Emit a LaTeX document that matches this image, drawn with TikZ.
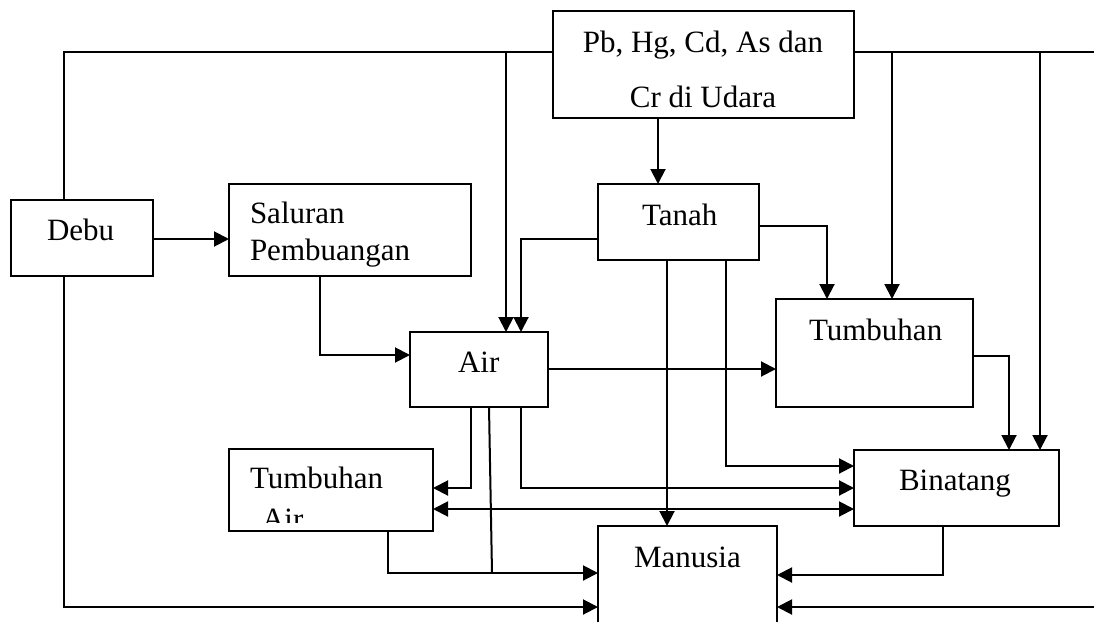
\documentclass[tikz,border=0pt]{standalone}
\usepackage{fontspec}
\setmainfont{Liberation Serif}
\usetikzlibrary{arrows.meta}
\begin{document}
\begin{tikzpicture}[x=1pt,y=-1pt,
  every node/.style={inner sep=0pt,outer sep=0pt},
  box/.style={draw,line width=2pt,anchor=north west,rectangle},
  txt/.style={anchor=base west,font=\fontsize{31}{37}\selectfont},
  ctxt/.style={anchor=base,font=\fontsize{31}{37}\selectfont},
  link/.style={line width=2pt},
  arr/.style={line width=2pt,-{Triangle[length=15pt,width=15pt]}},
  dblarr/.style={line width=2pt,{Triangle[length=15pt,width=15pt]}-{Triangle[length=15pt,width=15pt]}}]
\useasboundingbox (0,0) rectangle (1094,621);
\clip (0,0) rectangle (1094,621);

% boxes
\node[box,minimum width=301pt,minimum height=107pt] (pb) at (553,11) {};
\node[box,minimum width=142pt,minimum height=76pt] (debu) at (11,200) {};
\node[box,minimum width=242pt,minimum height=92pt] (saluran) at (229,184) {};
\node[box,minimum width=161pt,minimum height=76pt] (tanah) at (598,184) {};
\node[box,minimum width=138pt,minimum height=75pt] (air) at (410,332) {};
\node[box,minimum width=197pt,minimum height=108pt] (tumbuhan) at (776,299) {};
\node[box,minimum width=204pt,minimum height=82pt] (tumair) at (229,449) {};
\node[box,minimum width=205pt,minimum height=76pt] (binatang) at (854,450) {};
\node[box,minimum width=179pt,minimum height=120pt] (manusia) at (598,526) {};

% labels
\node[ctxt] (pbA) at (703,52) {Pb, Hg, Cd, As dan};
\node[ctxt] (pbB) at (703,107) {Cr di Udara};
\node[txt] (debuT) at (47,240) {Debu};
\node[txt] (salA) at (250,223) {Saluran};
\node[txt] (salB) at (250,260) {Pembuangan};
\node[txt] (tanahT) at (642,225) {Tanah};
\node[txt] (airT) at (458,372) {Air};
\node[txt] (tumT) at (809,340) {Tumbuhan};
\node[txt] (tumairA) at (250,488) {Tumbuhan};
\begin{scope}
  \clip (240,495) rectangle (320,522);
  \node[txt] (tumairB) at (262,529) {Air};
\end{scope}
\node[txt] (binT) at (899,490) {Binatang};
\node[txt] (manT) at (634,567) {Manusia};

% free ends of the long lines
\coordinate (topL) at (64,52);
\coordinate (topR) at (1094,52);
\coordinate (botL) at (64,607);
\coordinate (botR) at (1094,607);

% air borne metals: left branch
\draw[link] (pb.west |- topL) -- (topL) -- (debu.north -| topL);
\draw[arr] (debu.south -| botL) -- (botL) -- (manusia.west |- botL);
\draw[arr] (506,52) -- (air.north -| 506,0);
% right branch
\draw[link] (pb.east |- topR) -- (topR);
\draw[arr] (892,52) -- (tumbuhan.north -| 892,0);
\draw[arr] (1040,52) -- (binatang.north -| 1040,0);
\draw[arr] (botR) -- (manusia.east |- botR);

% Debu and Saluran
\draw[arr] (debu.east |- 0,239) -- (saluran.west |- 0,239);
\draw[arr] (saluran.south -| 320,0) -- (320,355) -- (air.west |- 0,355);

% Pb box to Tanah
\draw[arr] (pb.south -| 658,0) -- (tanah.north -| 658,0);

% from Tanah
\draw[arr] (tanah.west |- 0,239) -- (521,239) -- (air.north -| 521,0);
\draw[arr] (tanah.east |- 0,226) -- (827,226) -- (tumbuhan.north -| 827,0);
\draw[arr] (tanah.south -| 667,0) -- (manusia.north -| 667,0);
\draw[arr] (tanah.south -| 726,0) -- (726,466) -- (binatang.west |- 0,466);

% from Air
\draw[arr] (air.east |- 0,369) -- (tumbuhan.west |- 0,369);
\draw[arr] (air.south -| 471,0) -- (471,488) -- (tumair.east |- 0,488);
\draw[arr] (air.south -| 521,0) -- (521,488) -- (binatang.west |- 0,488);
\draw[link] (air.south -| 489,0) -- (492,573);

% Tumbuhan Air and Binatang
\draw[dblarr] (tumair.east |- 0,509) -- (binatang.west |- 0,509);
\draw[arr] (tumair.south -| 388,0) -- (388,573) -- (manusia.west |- 0,573);

% Tumbuhan to Binatang
\draw[arr] (tumbuhan.east |- 0,356) -- (1009,356) -- (binatang.north -| 1009,0);

% Binatang to Manusia
\draw[arr] (binatang.south -| 943,0) -- (943,575) -- (manusia.east |- 0,575);
\end{tikzpicture}
\end{document}
